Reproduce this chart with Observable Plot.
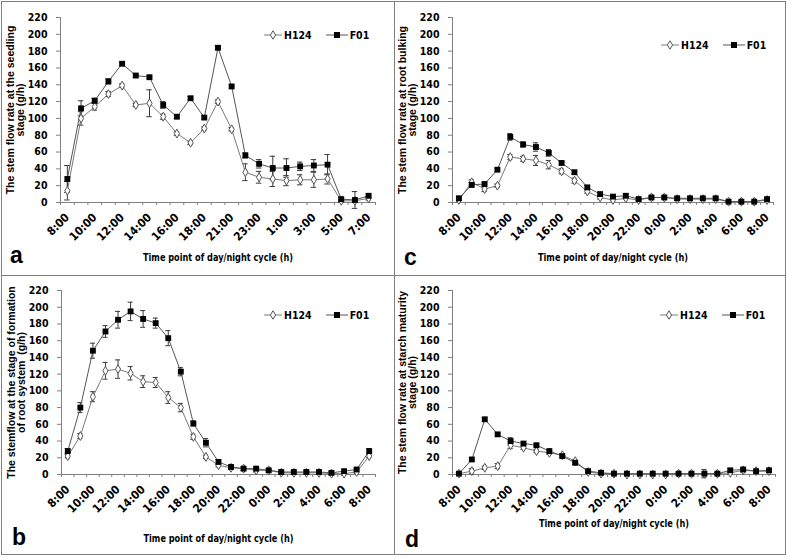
<!DOCTYPE html>
<html><head><meta charset="utf-8">
<script src="https://cdn.jsdelivr.net/npm/d3@7"></script>
<script src="https://cdn.jsdelivr.net/npm/@observablehq/plot@0.6"></script>
<style>
body{margin:0;background:#fff;}
#fig{position:relative;width:787px;height:558px;overflow:hidden;background:#fff;}
.panel{position:absolute;}
.panel svg{display:block;overflow:visible;}
.letter{position:absolute;font:bold 23px "Liberation Sans",Arial,sans-serif;line-height:22px;color:#000;}
.legend{position:absolute;display:flex;align-items:center;height:12px;font:bold 10.5px "Liberation Sans Narrow","DejaVu Sans Condensed",sans-serif;color:#000;}
.legend svg{display:block;}
.rule{position:absolute;background:#808080;}
</style></head><body><div id="fig"></div>
<script>
// ---------- categories / tick labels ----------
const timesA = ["8:00","9:00","10:00","11:00","12:00","13:00","14:00","15:00","16:00","17:00","18:00","20:00","21:00","22:00","23:00","0:00","1:00","2:00","3:00","4:00","5:00","6:00","7:00"];
const timesBCD = ["8:00","9:00","10:00","11:00","12:00","13:00","14:00","15:00","16:00","17:00","18:00","19:00","20:00","21:00","22:00","23:00","0:00","1:00","2:00","3:00","4:00","5:00","6:00","7:00","8:00"];
const yTicks = [0,20,40,60,80,100,120,140,160,180,200,220];
const seriesNames = ["H124","F01"];

// ---------- panel a: seedling stage ----------
const aH124 = [14,100,114,129,139,116,118,102,82,71,88,120,87,36,30,28,26,27,27,28,2,2,5];
const aF01  = [28,112,121,144,165,151,149,116,102,124,101,184,138,56,46,41,41,43,44,45,4,3,8];
const aH124err = [11,8,4,3,2,2,16,3,2,2,2,2,2,10,7,9,6,6,9,6,2,2,2];
const aF01err  = [16,9,3,3,2,2,2,4,2,2,2,2,2,3,5,14,11,5,7,12,2,10,2];

// ---------- panel b: formation of root system ----------
const bH124 = [22,46,93,124,126,121,111,110,92,80,45,21,11,8,7,5,5,2,2,2,2,1,1,3,22];
const bF01  = [28,80,148,171,185,195,186,181,163,123,61,38,15,9,7,7,5,3,3,3,3,2,4,6,28];
const bH124err = [2,3,6,10,11,8,7,6,7,5,3,2,2,2,2,2,2,2,2,2,2,2,2,2,2];
const bF01err  = [3,6,9,7,10,11,10,6,9,5,3,5,3,2,2,2,2,2,2,2,2,2,2,2,3];

// ---------- panel c: root bulking stage ----------
const cH124 = [3,24,16,20,54,52,50,45,37,26,13,6,3,5,3,6,6,4,4,4,4,1,1,1,3];
const cF01  = [5,21,22,39,78,69,66,59,47,36,18,10,7,8,4,6,6,5,5,5,5,1,1,1,4];
const cH124err = [2,3,3,2,3,3,6,5,3,3,2,2,1,1,1,1,1,1,1,1,1,1,1,1,1];
const cF01err  = [2,3,2,2,4,3,5,4,2,2,2,2,2,2,2,2,2,2,2,2,2,1,1,1,2];

// ---------- panel d: starch maturity stage ----------
const dH124 = [1,4,8,10,35,32,28,26,23,16,3,1,1,0,0,0,0,1,1,1,1,2,5,4,4];
const dF01  = [1,18,66,48,40,37,35,28,22,14,4,2,1,1,1,1,1,1,1,1,1,5,6,4,5];
const dH124err = [1,3,2,3,4,2,2,2,2,2,1,1,1,1,1,1,1,1,1,5,1,2,2,1,1];
const dF01err  = [1,2,2,2,4,2,2,2,2,2,1,1,1,1,1,1,1,1,1,1,1,2,2,1,1];

const xTitle = "Time point of day/night cycle (h)";

const panels = [
  {id:"a", left:0, top:0, w:394, h:275, ml:60, mt:17, mr:19, mb:73, cats:timesA,
   H:aH124, F:aF01, He:aH124err, Fe:aF01err, xdy:55,
   ylab:"The stem flow rate at the seedling\nstage (g/h)", leg:[264,29], let:[10,244]},
  {id:"b", left:0, top:275, w:394, h:283, ml:61, mt:15, mr:19, mb:84, cats:timesBCD,
   H:bH124, F:bF01, He:bH124err, Fe:bF01err, xdy:64,
   ylab:"The stemflow at the stage of formation\nof root system  (g/h)", leg:[264,34], let:[12,251]},
  {id:"c", left:394, top:0, w:393, h:275, ml:58, mt:17, mr:14, mb:73, cats:timesBCD,
   H:cH124, F:cF01, He:cH124err, Fe:cF01err, xdy:55,
   ylab:"The stem flow rate at root bulking\nstage (g/h)", leg:[267,39], let:[10,246]},
  {id:"d", left:394, top:275, w:393, h:283, ml:58, mt:15, mr:12, mb:84, cats:timesBCD,
   H:dH124, F:dF01, He:dH124err, Fe:dF01err, xdy:49,
   ylab:"The stem flow rate at starch maturity\nstage (g/h)", leg:[266,34], let:[11,253]}
];

const fig = document.getElementById("fig");
const narrow = "'Liberation Sans Narrow','DejaVu Sans Condensed',sans-serif";
const sans = "'Liberation Sans',Arial,sans-serif";
const axisGrey = "#808080";

function rows(vals, errs, s){ return vals.map((v,i)=>({i, v, e:errs[i], s})); }

for (const p of panels) {
  const n = p.cats.length;
  const xDom = [-0.5, n - 0.5];
  const bounds = d3.range(n + 1).map(k => k - 0.5);
  const labelIdx = d3.range(0, n, 2);
  const hRows = rows(p.H, p.He, "H124");
  const fRows = rows(p.F, p.Fe, "F01");
  const all = hRows.concat(fRows);
  const capW = 0.2;

  const chart = Plot.plot({
    width: p.w, height: p.h,
    marginLeft: p.ml, marginTop: p.mt, marginRight: p.mr, marginBottom: p.mb,
    x: {type:"linear", domain: xDom},
    y: {domain: [0, 220]},
    style: {fontFamily: narrow, fontWeight: "bold", fontSize: "11px", color: "#000", background: "transparent"},
    marks: [
      Plot.ruleY([0], {stroke: axisGrey}),
      Plot.ruleX([xDom[0]], {stroke: axisGrey}),
      Plot.axisX({ticks: bounds, tickSize: 3, tickFormat: () => "", stroke: axisGrey, label: null}),
      Plot.axisX({ticks: labelIdx, tickSize: 0, tickPadding: 13, tickRotate: -45,
                  tickFormat: k => p.cats[k], fontSize: 11.5, label: null}),
      Plot.axisY({ticks: yTicks, tickSize: 4, tickPadding: 9, stroke: axisGrey, fontSize: 10.5, label: null}),
      // error bars
      Plot.ruleX(all, {x: "i", y1: d => d.v - d.e, y2: d => d.v + d.e, stroke: "#3a3a3a", strokeWidth: 1}),
      Plot.ruleY(all, {y: d => d.v + d.e, x1: d => d.i - capW, x2: d => d.i + capW, stroke: "#3a3a3a"}),
      Plot.ruleY(all, {y: d => d.v - d.e, x1: d => d.i - capW, x2: d => d.i + capW, stroke: "#3a3a3a"}),
      // lines
      Plot.line(hRows, {x: "i", y: "v", stroke: "#7a7a7a", strokeWidth: 1}),
      Plot.line(fRows, {x: "i", y: "v", stroke: "#555", strokeWidth: 1}),
      // markers
      Plot.dot(hRows, {x: "i", y: "v", symbol: "diamond", r: 2.7, fill: "#fff", stroke: "#555", strokeWidth: 1}),
      Plot.dot(fRows, {x: "i", y: "v", symbol: "square", r: 3.3, fill: "#000", stroke: "none"}),
      // axis titles
      Plot.text([p.ylab], {text: d => d, frameAnchor: "left", dx: -45, rotate: -90, lineHeight: 0.95,
                           textAnchor: "middle", lineAnchor: "middle",
                           fontFamily: sans, fontWeight: "bold", fontSize: 10.5, fill: "#000"}),
      Plot.text([xTitle], {text: d => d, frameAnchor: "bottom", dy: p.xdy, fontFamily: narrow,
                           textAnchor: "middle", lineAnchor: "middle",
                           fontWeight: "bold", fontSize: 10.5, fill: "#000"})
    ]
  });
  // condense the x-axis title to the reference's narrow width
  chart.querySelectorAll("text").forEach(t => {
    if (t.textContent === xTitle) { t.setAttribute("textLength", 150); t.setAttribute("lengthAdjust", "spacingAndGlyphs"); }
  });
  const wrap = document.createElement("div");
  wrap.className = "panel";
  wrap.style.left = p.left + "px";
  wrap.style.top = p.top + "px";
  wrap.appendChild(chart);
  fig.appendChild(wrap);

  // legend
  const leg = document.createElement("div");
  leg.className = "legend";
  leg.style.left = (p.left + p.leg[0]) + "px";
  leg.style.top = (p.top + p.leg[1]) + "px";
  const sym = (name) => {
    const filled = name === "F01";
    const w = filled ? 22 : 18;
    const m = w / 2;
    const marker = filled
      ? `<rect x="${m-3}" y="3" width="6" height="6" fill="#000"/>`
      : `<path d="M${m},1.8 L${m+2.6},6 L${m},10.2 L${m-2.6},6Z" fill="#fff" stroke="#555"/>`;
    return `<svg width="${w}" height="12"><line x1="0" x2="${w}" y1="6" y2="6" stroke="${filled ? "#555" : "#7a7a7a"}"/>${marker}</svg>`;
  };
  leg.innerHTML = seriesNames.map((s, k) =>
    `${sym(s)}<span style="margin-left:2px;margin-right:${k === 0 ? 14 : 0}px">${s}</span>`).join("");
  fig.appendChild(leg);

  // panel letter
  const lt = document.createElement("div");
  lt.className = "letter";
  lt.textContent = p.id;
  lt.style.left = (p.left + p.let[0]) + "px";
  lt.style.top = (p.top + p.let[1]) + "px";
  fig.appendChild(lt);
}

// frame and dividers
const addRule = (l, t, w, h) => {
  const r = document.createElement("div");
  r.className = "rule";
  Object.assign(r.style, {left: l + "px", top: t + "px", width: w + "px", height: h + "px"});
  fig.appendChild(r);
};
addRule(1, 1, 785, 1);
addRule(1, 554, 785, 1);
addRule(1, 1, 1, 554);
addRule(785, 1, 1, 554);
addRule(394, 1, 1, 554);
addRule(1, 275, 785, 1);
</script>
</body></html>
